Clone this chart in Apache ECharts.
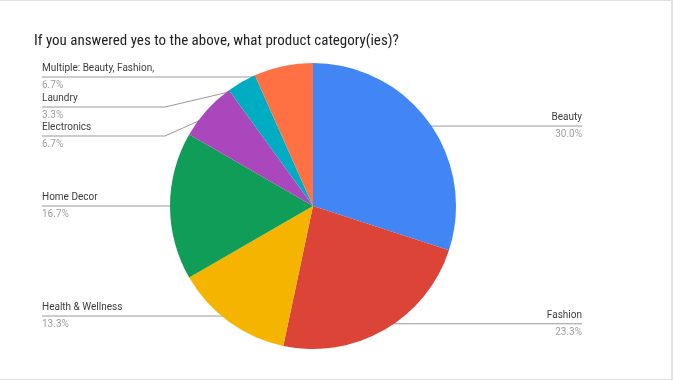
<!DOCTYPE html>
<html>
<head>
<meta charset="utf-8">
<script src="https://cdn.jsdelivr.net/npm/echarts@6/dist/echarts.min.js"></script>
<style>
  html, body { margin: 0; padding: 0; background: #fff; }
  #wrap { position: relative; width: 673px; height: 380px; }
  #chart { position: absolute; left: 0; top: 0; width: 673px; height: 380px; }
  #frame { position: absolute; left: 0; top: 0; width: 673px; height: 380px; box-sizing: border-box;
           border-top: 1px solid #e2e2e2; border-right: 2px solid #e2e2e2; border-bottom: 1px solid #e2e2e2;
           pointer-events: none; }
</style>
</head>
<body>
<div id="wrap"><div id="chart"></div><div id="frame"></div></div>
<script>
// ---- data ----
var titleText = 'If you answered yes to the above, what product category(ies)?';
var categories = ['Beauty', 'Fashion', 'Health & Wellness', 'Home Decor', 'Electronics', 'Laundry', 'Multiple: Beauty, Fashion,'];
var responses = [9, 7, 4, 5, 2, 1, 2];
var colors = ['#4285F4', '#DB4437', '#F4B400', '#0F9D58', '#AB47BC', '#00ACC1', '#FF7043'];

// ---- label layout (not data) ----
var labelSide = ['right', 'right', 'left', 'left', 'left', 'left', 'left'];
var labelLineY = [null, null, null, null, 136, 107, 77];   // null: keep horizontal at anchor
var labelBendX = [null, null, null, null, 165, 165, 255];
var leftEdge = 42, rightEdge = 582;

var pieData = categories.map(function (c, i) {
  return { name: c, value: responses[i], itemStyle: { color: colors[i] } };
});

var chart = echarts.init(document.getElementById('chart'), null, { renderer: 'canvas' });
chart.setOption({
  animation: false,
  backgroundColor: '#ffffff',
  title: {
    text: titleText,
    left: 29, top: 29,
    textStyle: { fontFamily: '"Roboto Condensed", Roboto, sans-serif', fontSize: 15, fontWeight: 'normal', color: '#222222' }
  },
  series: [
    {
      type: 'pie',
      center: [313, 206],
      radius: 143,
      startAngle: 90,
      clockwise: true,
      silent: true,
      label: { show: false },
      labelLine: { show: false },
      itemStyle: { borderWidth: 0 },
      data: pieData
    },
    {
      type: 'pie',
      center: [313, 206],
      radius: 136,
      startAngle: 90,
      clockwise: true,
      silent: true,
      itemStyle: { color: 'rgba(0,0,0,0)', borderWidth: 0 },
      data: categories.map(function (c, i) { return { name: c, value: responses[i] }; }),
      label: {
        show: true,
        position: 'outside',
        formatter: function (p) { return '{n|' + p.name + '}\n{p|' + p.percent.toFixed(1) + '%}'; },
        rich: {
          n: { fontFamily: 'Roboto, sans-serif', fontSize: 10, color: '#3c3c3c', lineHeight: 17 },
          p: { fontFamily: 'Roboto, sans-serif', fontSize: 10, color: '#9e9e9e', lineHeight: 17 }
        }
      },
      labelLine: { show: true, smooth: false, length: 10, length2: 10, lineStyle: { color: '#999999', width: 1 } },
      labelLayout: function (params) {
        var i = params.dataIndex;
        var pts = params.labelLinePoints;
        var p0 = pts ? pts[0] : [0, 0];
        var y = labelLineY[i] != null ? labelLineY[i] : p0[1];
        var right = labelSide[i] === 'right';
        var endX = right ? rightEdge : leftEdge;
        var bend = labelBendX[i] != null ? [labelBendX[i], y] : [p0[0], y];
        return {
          x: endX,
          y: y,
          align: right ? 'right' : 'left',
          verticalAlign: 'middle',
          labelLinePoints: [p0, bend, [endX, y]]
        };
      }
    }
  ]
});
</script>
</body>
</html>
